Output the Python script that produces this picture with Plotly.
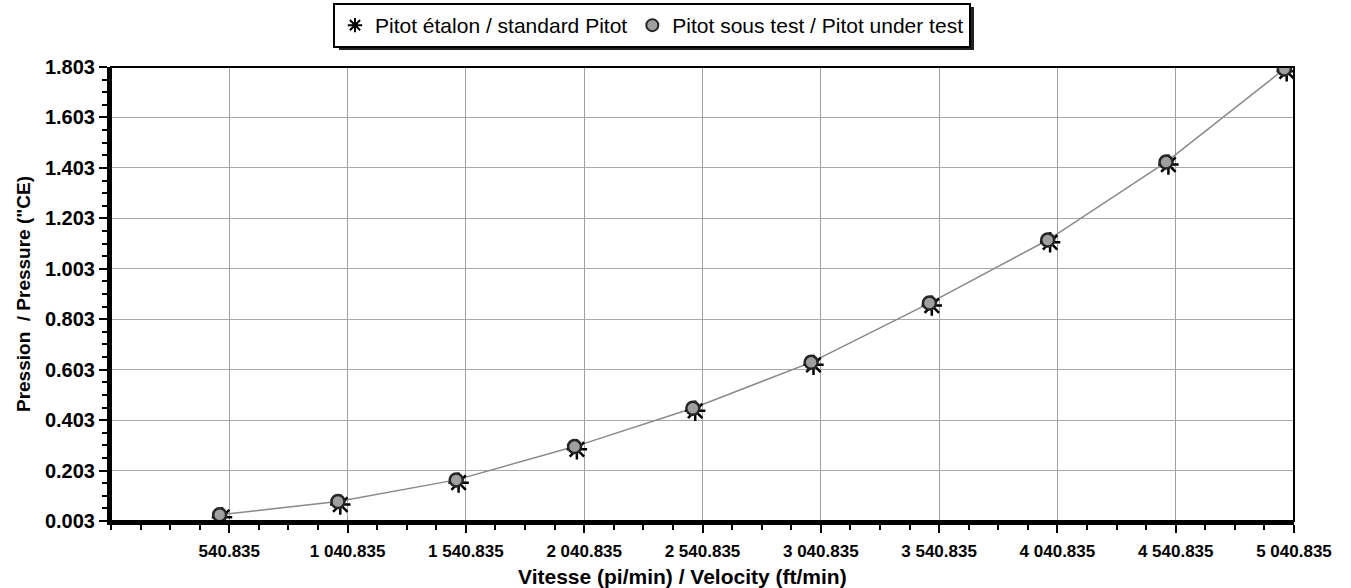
import plotly.graph_objects as go

# Data
velocity_test = [500, 1000, 1500, 2000, 2500, 3000, 3500, 4000, 4500, 5000]
pressure_test = [0.028, 0.080, 0.166, 0.298, 0.450, 0.632, 0.867, 1.117, 1.426, 1.795]
velocity_std = [510, 1010, 1510, 2010, 2510, 3010, 3510, 4010, 4510, 5010]
pressure_std = [0.018, 0.068, 0.155, 0.287, 0.440, 0.622, 0.857, 1.108, 1.416, 1.786]

x_ticks = [540.835, 1040.835, 1540.835, 2040.835, 2540.835, 3040.835,
           3540.835, 4040.835, 4540.835, 5040.835]
y_ticks = [0.003, 0.203, 0.403, 0.603, 0.803, 1.003, 1.203, 1.403, 1.603, 1.803]

name_std = "Pitot étalon / standard Pitot"
name_test = "Pitot sous test / Pitot under test"
x_title = "Vitesse (pi/min) / Velocity (ft/min)"
y_title = "Pression  / Pressure (\"CE)"

FONT = "Liberation Sans, Arial, sans-serif"
W, H = 1351, 588
ML, MR, MT, MB = 111, 57, 67, 67
PW, PH = W - ML - MR, H - MT - MB


def px_x(px):
    return (px - ML) / PW


def px_y(py):
    return (H - MB - py) / PH


fig = go.Figure()
fig.add_trace(go.Scatter(
    x=velocity_test, y=pressure_test, mode="lines", showlegend=False,
    line=dict(color="#8a8a8a", width=1.5), hoverinfo="skip"))
fig.add_trace(go.Scatter(
    x=velocity_std, y=pressure_std, mode="markers", name=name_std,
    marker=dict(symbol="asterisk-open", size=17, color="black",
                line=dict(color="black", width=2.5))))
fig.add_trace(go.Scatter(
    x=velocity_test, y=pressure_test, mode="markers", name=name_test,
    marker=dict(symbol="circle", size=13, color="#a0a0a0",
                line=dict(color="#262626", width=2.5))))

fig.update_layout(
    width=W, height=H,
    margin=dict(l=ML, r=MR, t=MT, b=MB, autoexpand=False),
    paper_bgcolor="white", plot_bgcolor="white",
    separators=". ",
    font=dict(family=FONT, color="black", size=15),
    showlegend=True,
    legend=dict(orientation="h", xref="container", yref="container",
                x=652 / W, xanchor="center", y=1 - 3 / H, yanchor="top",
                bordercolor="black", borderwidth=2, bgcolor="white",
                font=dict(family=FONT, size=21, color="black"),
                itemsizing="constant", tracegroupgap=0),
    xaxis=dict(
        range=[40.835, 5040.835], tickmode="array", tickvals=x_ticks, tickformat=",.3f",
        automargin=False,
        showgrid=True, gridcolor="#a0a0a0", gridwidth=1,
        showline=True, linecolor="black", linewidth=4,
        ticks="outside", ticklen=8, tickwidth=2, tickcolor="black", ticklabelstandoff=4,
        minor=dict(dtick=125, tick0=40.835, ticks="outside", ticklen=5, tickwidth=2,
                   tickcolor="black", showgrid=False),
        tickfont=dict(family=FONT, size=17, color="black", weight="bold"),
        zeroline=False),
    yaxis=dict(
        range=[0.003, 1.803], tickmode="array", tickvals=y_ticks, tickformat=".3f",
        automargin=False,
        showgrid=True, gridcolor="#a8a8a8", gridwidth=1,
        showline=True, linecolor="black", linewidth=4,
        ticks="outside", ticklen=8, tickwidth=2, tickcolor="black", ticklabelstandoff=0,
        minor=dict(dtick=0.05, tick0=0.003, ticks="outside", ticklen=5, tickwidth=2,
                   tickcolor="black", showgrid=False),
        tickfont=dict(family=FONT, size=20, color="black", weight="bold"),
        title=dict(text="<b>" + y_title + "</b>", font=dict(family=FONT, size=19, color="black"), standoff=10),
        zeroline=False),
    annotations=[dict(text="<b>" + x_title + "</b>", xref="paper", yref="paper",
                      x=px_x(682), y=px_y(576),
                      xanchor="center", yanchor="middle", showarrow=False,
                      font=dict(family=FONT, size=21, color="black"))],
    shapes=[
        dict(type="rect", xref="paper", yref="paper", x0=0, x1=1, y0=0, y1=1,
             line=dict(color="black", width=2), fillcolor="rgba(0,0,0,0)", layer="above"),
        # legend drop shadow
        dict(type="rect", xref="paper", yref="paper",
             x0=px_x(339), x1=px_x(974), y0=px_y(50), y1=px_y(7),
             line=dict(width=0), fillcolor="#222222", layer="below"),
    ],
)

fig.write_html("out.html", config={"displayModeBar": False},
               post_script="document.body.style.margin='0px';")
